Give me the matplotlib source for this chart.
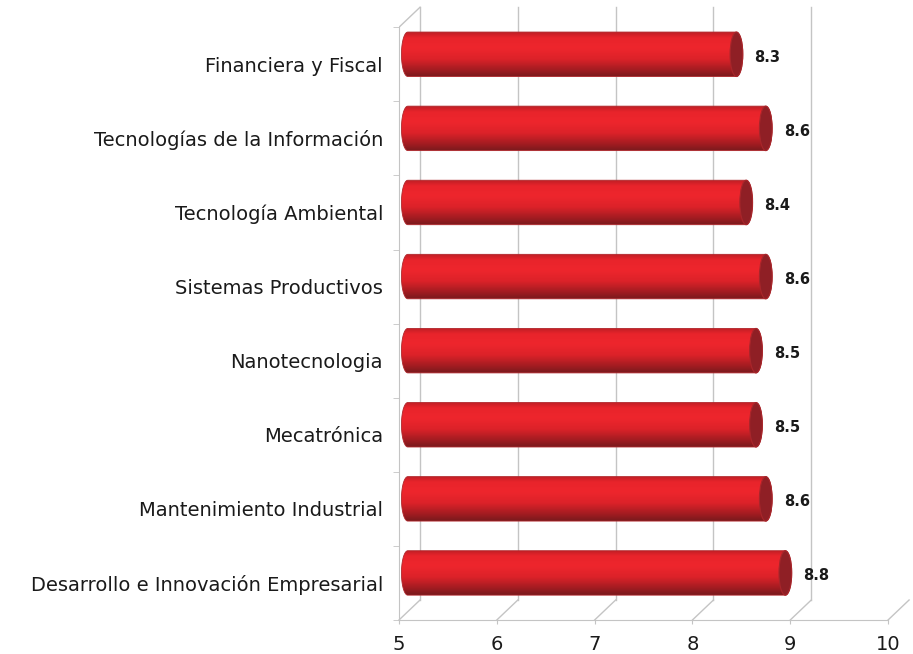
import numpy as np
import matplotlib
matplotlib.use("Agg")
import matplotlib.pyplot as plt
from matplotlib.path import Path
from matplotlib.patches import PathPatch, Ellipse
from matplotlib.colors import LinearSegmentedColormap

# Data (top to bottom as shown)
categories = ["Financiera y Fiscal", "Tecnologías de la Información", "Tecnología Ambiental",
              "Sistemas Productivos", "Nanotecnologia", "Mecatrónica",
              "Mantenimiento Industrial", "Desarrollo e Innovación Empresarial"]
values = [8.3, 8.6, 8.4, 8.6, 8.5, 8.5, 8.6, 8.8]
xticks = [5, 6, 7, 8, 9, 10]

# reverse so the first category sits at the top
cats = categories[::-1]
vals = values[::-1]
n = len(cats)

# fake 3D depth offsets (in data units)
DX, DY = 0.215, 0.27
BAR_H = 0.6
CAP_W = 0.065
grid_col = "#c4c4c4"

fig = plt.figure(figsize=(9.13, 6.54), dpi=100)
ax = fig.add_axes([399 / 913, 34 / 654, 513.5 / 913, 618.7 / 654])

# back wall and floor lines
for v in xticks:
    ax.plot([v, v + DX], [0, DY], color=grid_col, lw=1, zorder=1, clip_on=False)
    if v < 10:
        ax.plot([v + DX, v + DX], [DY, n + DY], color=grid_col, lw=1, zorder=1)
ax.plot([5, 5 + DX], [n, n + DY], color=grid_col, lw=1, zorder=1)

# colour ramp for cylinder body (bottom -> top)
body = LinearSegmentedColormap.from_list("body", [
    (0.0, "#7a1a1d"), (0.15, "#a21c21"), (0.4, "#dc2229"),
    (0.65, "#ee262d"), (0.88, "#e8242b"), (1.0, "#c01f25")])
grad = body(np.linspace(0, 1, 64))[:, :3].reshape(64, 1, 3)

for i, v in enumerate(vals):
    yc = i + 0.5 + DY / 2
    x0, x1 = 5 + 0.09, v + 0.15
    h = BAR_H / 2
    t_left = np.linspace(np.pi / 2, 3 * np.pi / 2, 40)
    t_right = np.linspace(-np.pi / 2, np.pi / 2, 40)
    pts = np.vstack([
        np.column_stack([x0 + CAP_W * np.cos(t_left), yc + h * np.sin(t_left)]),
        np.column_stack([x1 + CAP_W * np.cos(t_right), yc + h * np.sin(t_right)]),
    ])
    pts = np.vstack([pts, pts[:1]])
    patch = PathPatch(Path(pts), facecolor="none", edgecolor="#b0262b", lw=0.6,
                      transform=ax.transData, zorder=3)
    ax.add_patch(patch)
    im = ax.imshow(grad, extent=(x0 - CAP_W, x1 + CAP_W, yc - h, yc + h),
                   origin="lower", aspect="auto", zorder=2, interpolation="bilinear")
    im.set_clip_path(patch)
    cap = Ellipse((x1, yc), 2 * CAP_W, 2 * h, facecolor="#8f1f25",
                  edgecolor="#a8262b", lw=0.8, zorder=4)
    ax.add_patch(cap)
    ax.text(x1 + CAP_W + 0.12, yc - 0.04, f"{v:.1f}", fontsize=10.5, fontweight="bold",
            color="#1a1a1a", va="center", ha="left", zorder=5)

ax.set_aspect("auto")
ax.set_xlim(5, 10.25)
ax.set_ylim(0, 8.35)

# axes styling
for s in ["top", "right"]:
    ax.spines[s].set_visible(False)
ax.spines["left"].set_bounds(0, n)
ax.spines["bottom"].set_bounds(5, 10)
ax.spines["left"].set_color(grid_col)
ax.spines["bottom"].set_color(grid_col)

ax.set_xticks(xticks)
ax.set_xticklabels([str(t) for t in xticks], fontsize=14, color="#1a1a1a")
ax.tick_params(axis="x", length=3, color=grid_col, pad=8)

ax.set_yticks(np.arange(n) + 0.5)
ax.set_yticklabels(cats, fontsize=14, color="#1a1a1a")
ax.tick_params(axis="y", which="major", length=0, pad=11.5)
ax.set_yticks(np.arange(n + 1), minor=True)
ax.tick_params(axis="y", which="minor", length=4, color=grid_col)

fig.savefig("out.png", dpi=100)
